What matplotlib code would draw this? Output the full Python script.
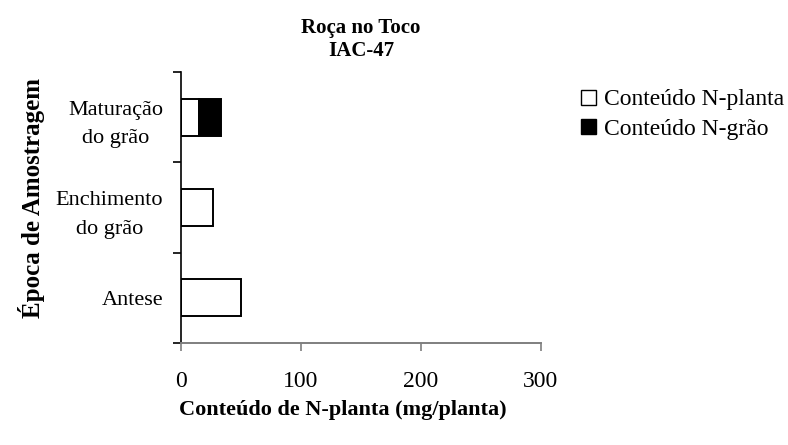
import matplotlib.pyplot as plt
from matplotlib.patches import Patch

categorias = ["Antese", "Enchimento\ndo grão", "Maturação\ndo grão"]
n_planta   = [50, 27, 15]
n_grao     = [0, 0, 18]
x_ticks    = [0, 100, 200, 300]

plt.rcParams["font.family"] = ["Liberation Serif", "DejaVu Serif"]

fig = plt.figure(figsize=(7.88, 4.45), dpi=100)
ax  = fig.add_axes([181 / 788, 1 - 343 / 445, 360 / 788, 271 / 445])

pos = list(range(len(categorias)))
ax.barh(pos, n_planta, height=0.41, color="white", edgecolor="black",
        linewidth=1.4)
for p, base, g in zip(pos, n_planta, n_grao):
    if g > 0:
        ax.barh(p, g, left=base, height=0.41, color="black",
                edgecolor="black", linewidth=1.4)

ax.set_xlim(0, 300)
ax.set_ylim(-0.5, 2.5)
ax.set_xticks(x_ticks)
ax.set_xticklabels([str(v) for v in x_ticks], fontsize=17)
ax.set_yticks([-0.5, 0.5, 1.5, 2.5])
ax.set_yticklabels([])
ax.set_yticks(pos, minor=True)
ax.set_yticklabels(categorias, minor=True, fontsize=16)
for lbl in ax.get_yticklabels(minor=True):
    lbl.set_multialignment("center")
    lbl.set_linespacing(1.7)

ax.spines["top"].set_visible(False)
ax.spines["right"].set_visible(False)
ax.spines["left"].set_color("black")
ax.spines["left"].set_linewidth(1.2)
ax.spines["bottom"].set_color("#7f7f7f")
ax.spines["bottom"].set_linewidth(1.4)
ax.tick_params(axis="x", direction="out", length=6, width=1.2,
               color="#7f7f7f", pad=14)
ax.tick_params(axis="y", which="major", direction="out", length=6,
               width=1.2, color="black")
ax.tick_params(axis="y", which="minor", length=0, pad=13)

fig.text(361 / 788, 1 - 39 / 445, "Roça no Toco\nIAC-47", ha="center",
         va="center", fontsize=15, fontweight="bold", linespacing=1.2)
fig.text(343 / 788, 1 - 410 / 445, "Conteúdo de N-planta (mg/planta)",
         ha="center", va="center", fontsize=16, fontweight="bold")
fig.text(32 / 788, 1 - 198 / 445, "Época de Amostragem", ha="center",
         va="center", rotation=90, fontsize=18, fontweight="bold")

handles = [Patch(facecolor="white", edgecolor="black", linewidth=1),
           Patch(facecolor="black", edgecolor="black", linewidth=1)]
fig.legend(handles, ["Conteúdo N-planta", "Conteúdo N-grão"],
           loc="upper left", bbox_to_anchor=(572 / 788, 1 - 80 / 445),
           frameon=False, fontsize=17, handlelength=0.6, handleheight=0.6,
           handletextpad=0.35, labelspacing=0.35, borderaxespad=0)

fig.savefig("out.png", dpi=100)
